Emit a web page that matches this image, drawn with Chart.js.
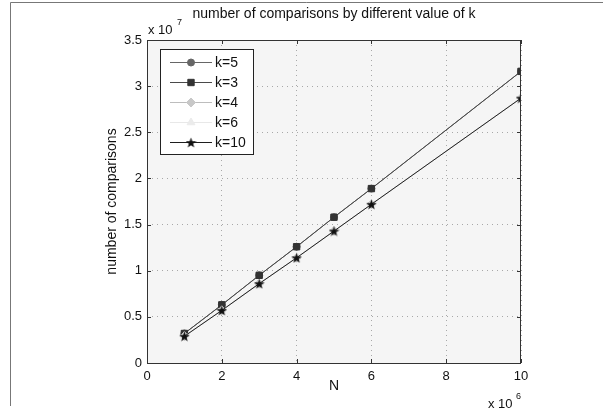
<!DOCTYPE html>
<html>
<head>
<meta charset="utf-8">
<script src="https://cdn.jsdelivr.net/npm/chart.js@4.4.1/dist/chart.umd.min.js"></script>
<style>
  html, body { margin: 0; padding: 0; background: #fff; }
  #wrap { width: 603px; height: 412px; }
</style>
</head>
<body>
<div id="wrap"><canvas id="cmp" width="603" height="412"></canvas></div>
<script>
// N in units of 10^6, comparisons in units of 10^7
const nValues = [1, 2, 3, 4, 5, 6, 10];
const k5  = [0.32, 0.63, 0.95, 1.26, 1.58, 1.89, 3.16];
const k3  = [0.32, 0.63, 0.95, 1.26, 1.58, 1.89, 3.16];
const k4  = [0.29, 0.57, 0.86, 1.14, 1.43, 1.72, 2.87];
const k6  = [0.29, 0.57, 0.86, 1.14, 1.43, 1.72, 2.87];
const k10 = [0.29, 0.57, 0.86, 1.14, 1.43, 1.72, 2.87];

const FONT = '"Liberation Sans", Arial, Helvetica, sans-serif';

// filled pentagram like matlab's 'p' marker
function makeStar(size, color) {
    const c = document.createElement('canvas');
    c.width = size; c.height = size;
    const g = c.getContext('2d');
    const cx = size / 2, cy = size / 2 + 0.5;
    const ro = size / 2, ri = ro * 0.42;
    g.beginPath();
    for (let i = 0; i < 10; i++) {
        const r = i % 2 ? ri : ro;
        const a = -Math.PI / 2 + i * Math.PI / 5;
        const px = cx + r * Math.cos(a), py = cy + r * Math.sin(a);
        if (i === 0) g.moveTo(px, py); else g.lineTo(px, py);
    }
    g.closePath();
    g.fillStyle = color;
    g.fill();
    return c;
}
const starImg = makeStar(11, '#111');

function pts(ys) { return nValues.map((x, i) => ({ x, y: ys[i] })); }

const datasets = [
    { label: 'k=5', data: pts(k5), borderColor: '#666', pointStyle: 'circle', pointRadius: 3.5,
      pointBackgroundColor: '#666', pointBorderColor: '#666', order: 4 },
    { label: 'k=3', data: pts(k3), borderColor: '#4a4a4a', pointStyle: 'rect', pointRadius: 4.5,
      pointBackgroundColor: '#333', pointBorderColor: '#333', order: 3 },
    { label: 'k=4', data: pts(k4), borderColor: '#bdbdbd', pointStyle: 'rectRot', pointRadius: 4.5,
      pointBackgroundColor: '#c8c8c8', pointBorderColor: '#c8c8c8', order: 2 },
    { label: 'k=6', data: pts(k6), borderColor: '#e8e8e8', pointStyle: 'triangle', pointRadius: 4.5,
      pointBackgroundColor: '#ebebeb', pointBorderColor: '#ebebeb', order: 1 },
    { label: 'k=10', data: pts(k10), borderColor: '#1e1e1e', pointStyle: starImg, pointRadius: 5,
      pointBackgroundColor: '#111', pointBorderColor: '#111', order: 0 },
];
datasets.forEach(d => { d.borderWidth = 1; d.pointBorderWidth = 1; d.tension = 0; d.fill = false; });

const matlabFrame = {
    id: 'matlabFrame',
    beforeDraw(chart) {
        const { ctx, chartArea: a } = chart;
        ctx.save();
        ctx.fillStyle = '#fff';
        ctx.fillRect(0, 0, chart.width, chart.height);
        // outer figure border
        ctx.strokeStyle = '#777';
        ctx.lineWidth = 1;
        ctx.beginPath();
        ctx.moveTo(10.5, 406); ctx.lineTo(10.5, 2.5); ctx.lineTo(603, 2.5);
        ctx.stroke();
        ctx.fillStyle = '#f5f5f5';
        ctx.fillRect(a.left, a.top, a.right - a.left, a.bottom - a.top);
        ctx.restore();
    },
    afterDraw(chart) {
        const { ctx, chartArea: a, scales } = chart;
        ctx.save();
        // axes box
        ctx.strokeStyle = '#333';
        ctx.lineWidth = 1;
        ctx.strokeRect(a.left + 0.5, a.top + 0.5, a.right - a.left - 1, a.bottom - a.top);
        // inward ticks on all sides
        ctx.beginPath();
        scales.x.ticks.forEach(t => {
            const px = Math.round(scales.x.getPixelForValue(t.value)) + 0.5;
            ctx.moveTo(px, a.bottom); ctx.lineTo(px, a.bottom - 4);
            ctx.moveTo(px, a.top); ctx.lineTo(px, a.top + 4);
        });
        scales.y.ticks.forEach(t => {
            const py = Math.round(scales.y.getPixelForValue(t.value)) + 0.5;
            ctx.moveTo(a.left, py); ctx.lineTo(a.left + 4, py);
            ctx.moveTo(a.right, py); ctx.lineTo(a.right - 4, py);
        });
        ctx.stroke();

        // texts
        ctx.fillStyle = '#111';
        ctx.font = '14px ' + FONT;
        ctx.textAlign = 'center';
        ctx.textBaseline = 'middle';
        ctx.fillText('number of comparisons by different value of k', (a.left + a.right) / 2, 14);
        ctx.fillText('N', (a.left + a.right) / 2, 386);
        ctx.save();
        ctx.translate(112, (a.top + a.bottom) / 2);
        ctx.rotate(-Math.PI / 2);
        ctx.fillText('number of comparisons', 0, 0);
        ctx.restore();
        // exponent labels
        ctx.textAlign = 'left';
        ctx.font = '13px ' + FONT;
        ctx.fillText('x 10', 148, 30);
        ctx.fillText('x 10', 488, 404);
        ctx.font = '9px ' + FONT;
        ctx.fillText('7', 177, 23);
        ctx.fillText('6', 516, 397);

        // legend inside the axes
        const lx = 160, ly = 49, lw = 93, lh = 105;
        ctx.fillStyle = '#fff';
        ctx.fillRect(lx, ly, lw, lh);
        ctx.strokeStyle = '#222';
        ctx.strokeRect(lx + 0.5, ly + 0.5, lw, lh);
        ctx.font = '14px ' + FONT;
        chart.data.datasets.forEach((d, i) => {
            const y = ly + 13.5 + i * 20;
            ctx.strokeStyle = d.borderColor;
            ctx.lineWidth = 1;
            ctx.beginPath();
            ctx.moveTo(170, y); ctx.lineTo(212, y);
            ctx.stroke();
            ctx.fillStyle = d.pointBackgroundColor;
            ctx.strokeStyle = d.pointBorderColor;
            Chart.helpers.drawPoint(ctx, {
                pointStyle: d.pointStyle, radius: d.pointRadius, rotation: 0, borderWidth: 1
            }, 191, y);
            ctx.fillStyle = '#111';
            ctx.textBaseline = 'middle';
            ctx.fillText(d.label, 215, y + 1);
        });
        ctx.restore();
    }
};

new Chart(document.getElementById('cmp').getContext('2d'), {
    type: 'line',
    data: { datasets },
    options: {
        responsive: false,
        animation: false,
        events: [],
        layout: { padding: { left: 0, top: 40, right: 82, bottom: 0 } },
        plugins: { legend: { display: false }, tooltip: { enabled: false } },
        scales: {
            x: {
                type: 'linear', min: 0, max: 10,
                ticks: { stepSize: 2, color: '#111', padding: 6, font: { family: FONT, size: 13 },
                         callback: v => String(v) },
                grid: { color: '#a8a8a8', drawTicks: false },
                border: { display: false, dash: [1, 4] },
                afterFit: s => { s.height = 49; }
            },
            y: {
                min: 0, max: 3.5,
                ticks: { stepSize: 0.5, color: '#111', padding: 5, font: { family: FONT, size: 13 },
                         callback: v => String(v) },
                grid: { color: '#a8a8a8', drawTicks: false },
                border: { display: false, dash: [1, 4] },
                afterFit: s => { s.width = 147; }
            }
        }
    },
    plugins: [matlabFrame]
});
</script>
</body>
</html>
